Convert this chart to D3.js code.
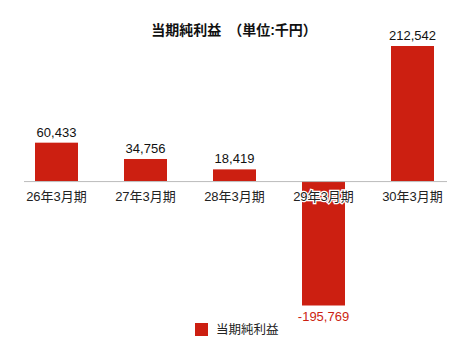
<!DOCTYPE html>
<html><head><meta charset="utf-8">
<script src="https://cdn.jsdelivr.net/npm/d3@7"></script>
<style>
body{margin:0;background:#fff;}
text{font-family:"Liberation Sans","Noto Sans CJK JP",sans-serif;}
</style></head>
<body><svg id="c" width="470" height="350"></svg>
<script>
const categories = ["26年3月期","27年3月期","28年3月期","29年3月期","30年3月期"];
const values = [60433, 34756, 18419, -195769, 212542];
const seriesName = "当期純利益";
const title = "当期純利益　（単位:千円）";
const color = "#cc1f11";

const svg = d3.select("#c");
const x = d3.scaleBand().domain(categories).range([12, 457]).paddingInner(0.517).paddingOuter(0.2585);
const y = d3.scaleLinear().domain([-195769, 212542]).range([305.5, 46]);

svg.append("text").attr("x", 234).attr("y", 35).attr("text-anchor","middle")
  .attr("font-size", 14).attr("font-weight","bold").attr("fill","#111").text(title);

const data = categories.map((c,i)=>({c, v: values[i]}));

svg.selectAll("rect.bar").data(data).enter().append("rect").attr("class","bar")
  .attr("x", d=>x(d.c)).attr("width", x.bandwidth())
  .attr("y", d=>Math.min(y(d.v), y(0))).attr("height", d=>Math.abs(y(d.v)-y(0)))
  .attr("fill", color);

svg.append("line").attr("x1",24).attr("x2",447).attr("y1",y(0)+0.5).attr("y2",y(0)+0.5)
  .attr("stroke","#bbb").attr("stroke-width",1);

const fmt = d3.formatLocale({decimal:".", thousands:",", grouping:[3], currency:["",""], minus:"-"}).format(",");
svg.selectAll("text.cat").data(data).enter().append("text").attr("class","cat")
  .attr("x", d=>x(d.c)+x.bandwidth()/2).attr("y", y(0)+20).attr("text-anchor","middle")
  .attr("font-size",13).attr("fill","#222")
  .attr("stroke","#fff").attr("stroke-width",2.5).attr("paint-order","stroke")
  .text(d=>d.c);

svg.selectAll("text.val").data(data).enter().append("text").attr("class","val")
  .attr("x", d=>x(d.c)+x.bandwidth()/2)
  .attr("y", d=> d.v>=0 ? y(d.v)-6 : y(d.v)+15)
  .attr("text-anchor","middle").attr("font-size",13)
  .attr("fill", d=> d.v>=0 ? "#111" : color)
  .text(d=>fmt(d.v));

const lg = svg.append("g").attr("transform","translate(195,323)");
lg.append("rect").attr("width",13).attr("height",13).attr("fill",color);
lg.append("text").attr("x",21).attr("y",11).attr("font-size",12.5).attr("fill","#222").text(seriesName);
</script></body></html>
